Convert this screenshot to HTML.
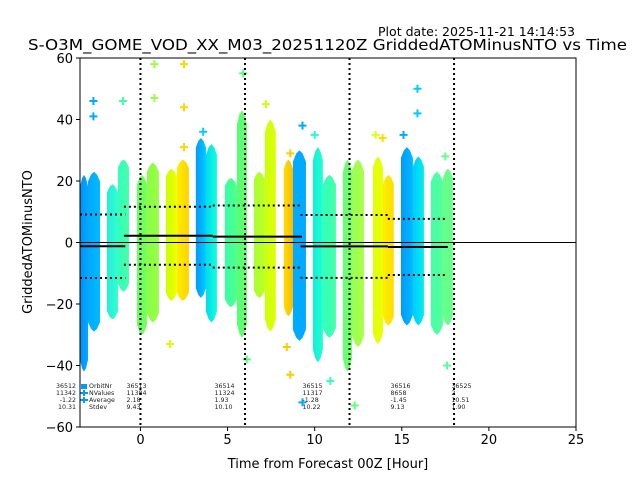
<!DOCTYPE html>
<html><head><meta charset="utf-8"><style>
html,body{margin:0;padding:0;background:#fff;}
svg{display:block;font-family:"DejaVu Sans","Liberation Sans",sans-serif;}
</style></head><body>
<svg id="chart" width="640" height="480" viewBox="0 0 640 480" xmlns="http://www.w3.org/2000/svg">
<text x="378" y="36" font-size="12" textLength="197" lengthAdjust="spacingAndGlyphs">Plot date: 2025-11-21 14:14:53</text>
<text x="28" y="50" font-size="15" textLength="599" lengthAdjust="spacingAndGlyphs">S-O3M_GOME_VOD_XX_M03_20251120Z GriddedATOMinusNTO vs Time</text>
<text transform="translate(32,242) rotate(-90)" font-size="13" text-anchor="middle">GriddedATOMinusNTO</text>
<text x="328" y="468" font-size="13" text-anchor="middle">Time from Forecast 00Z [Hour]</text>
<g id="plot"></g>
</svg>
<script>
// columns of scatter density (hours, values)
const colX0 = [-3.47,-3.01,-1.92,-1.29,-0.20,0.37,1.46,2.09,3.18,3.76,4.85,5.54,6.51,7.14,8.23,8.75,9.90,10.47,11.62,12.14,13.34,13.92,14.95,15.64,16.67,17.36];
const colX1 = [-3.01,-2.32,-1.29,-0.66,0.37,1.06,2.09,2.78,3.76,4.39,5.54,6.11,7.14,7.77,8.75,9.50,10.47,11.22,12.14,12.83,13.92,14.54,15.64,16.27,17.36,17.93];
const colTop = [22,23,19,27,22,26,24,27,34,32,21,43,23,40,27,30,31,22,27,27,28,22,31,28,23,24];
const colBot = [-42,-29,-25,-16,-30,-26,-19,-19,-18,-26,-21,-31,-18,-29,-24,-32,-39,-31,-42,-34,-33,-27,-27,-27,-30,-27];
const colC0 = ["#0090ff","#00a8ff","#22eedd","#33ffbb","#66ff66","#88ff44","#ccff00","#ffee00","#0099ff","#00ddee","#33ffaa","#55ff77","#aaff33","#ccff11","#ffdd00","#00aaff","#11eedd","#33ffbb","#66ff77","#99ff55","#ddff11","#ffee00","#0099ff","#00ccff","#44ffaa","#66ff88"];
const colC1 = ["#00a8ff","#00bbff","#33ffcc","#44ffaa","#77ff55","#99ff44","#eeff00","#ffd200","#00ccff","#11ffdd","#55ff88","#66ff66","#bbff22","#ddff00","#ffbb00","#00aaff","#22ffcc","#44ffaa","#77ff66","#aaff44","#eeff00","#ffdd00","#00bbff","#00eeee","#55ff99","#66ff88"];
// outlier markers
const outX = [-2.7,-2.7,-1.0,0.8,0.8,2.5,2.5,2.5,3.6,5.9,6.1,7.2,8.6,8.6,9.3,9.3,10.0,10.9,12.3,13.5,13.9,15.1,15.9,15.9,17.5,17.6,1.7,8.4];
const outY = [46,41,46,58,47,58,44,31,36,55,-38,45,29,-43,38,-52,35,-45,-53,35,34,35,50,42,28,-40,-33,-34];
const outC = ["#00aaff","#00aaff","#44ffaa","#99ff44","#99ff44","#ffd700","#ffd700","#ffd700","#00ccff","#55ff77","#55ff77","#ccff11","#ffcc00","#ffcc00","#00aaff","#00aaff","#22ffcc","#33ffbb","#66ff77","#ddff11","#ffdd00","#00aaff","#00ccff","#00ccff","#66ff88","#55ff99","#ddff00","#ffcc00"];
// orbit statistics
const orbitNr = ["36512","36513","36514","36515","36516","36525"];
const nValues = ["11342","11384","11324","11317","8658","2"];
const avg = [-1.22,2.18,1.93,-1.28,-1.45,10.51];
const stdev = [10.31,9.43,10.10,10.22,9.13,1.90];
const orbStart = [-3.47,-0.95,4.15,9.19,14.2,null];
const orbEnd = [-0.87,4.15,9.27,14.2,17.64,null];
const labelX = [-3.7,-0.8,4.25,9.3,14.35,17.85];
const xTicks = [0,5,10,15,20,25];
const yTicks = [-60,-40,-20,0,20,40,60];
const vLines = [0,6,12,18];

const L=80,R=576,T=58,B=427, XMIN=-3.47, XMAX=25, YMIN=-60, YMAX=60;
const sx=v=>L+(v-XMIN)/(XMAX-XMIN)*(R-L);
const sy=v=>B-(v-YMIN)/(YMAX-YMIN)*(B-T);
const NS="http://www.w3.org/2000/svg";
const svg=document.getElementById('chart'), g=document.getElementById('plot');
function mk(tag,at,parent){const e=document.createElementNS(NS,tag);for(const k in at)e.setAttribute(k,at[k]);(parent||g).appendChild(e);return e;}
const defs=mk('defs',{},svg);
const clip=mk('clipPath',{id:'cp'},defs);mk('rect',{x:L,y:T,width:R-L,height:B-T},clip);
const data=mk('g',{'clip-path':'url(#cp)'});


colX0.forEach((x0,i)=>{
  const gr=mk('linearGradient',{id:'gr'+i,x1:0,x2:1,y1:0,y2:0},defs);
  mk('stop',{offset:0,'stop-color':colC0[i]},gr);mk('stop',{offset:1,'stop-color':colC1[i]},gr);
  const a=sx(x0),b=sx(colX1[i]),t=sy(colTop[i]),bt=sy(colBot[i]),w=b-a,h=bt-t,m=h*0.06;
  const d=`M${a},${t+m}L${a+w*0.25},${t+m*0.3}L${a+w*0.5},${t}L${a+w*0.75},${t+m*0.3}L${b},${t+m}L${b},${bt-m}L${a+w*0.75},${bt-m*0.3}L${a+w*0.5},${bt}L${a+w*0.25},${bt-m*0.3}L${a},${bt-m}Z`;
  const r=mk('path',{d:d,fill:'url(#gr'+i+')'},data);
  
  
});
outX.forEach((x,i)=>{
  const px=sx(x),py=sy(outY[i]);
  const p=mk('path',{d:`M${px-4},${py}H${px+4}M${px},${py-4}V${py+4}`,stroke:outC[i],'stroke-width':2},data);
  
  
});
const z=mk('line',{x1:L,x2:R,y1:sy(0),y2:sy(0),stroke:'#000','stroke-width':1});


vLines.forEach(v=>{
  const l=mk('line',{x1:sx(v),x2:sx(v),y1:T,y2:B,stroke:'#000','stroke-width':2,'stroke-dasharray':'2,3'});
  
  
});
orbitNr.forEach((o,i)=>{
  if(orbStart[i]===null)return;
  const a=sx(orbStart[i]),b=sx(orbEnd[i]);
  const m=mk('line',{x1:a,x2:b,y1:sy(avg[i]),y2:sy(avg[i]),stroke:'#000','stroke-width':2});
  
  
  [1,-1].forEach(s=>{
    const d=mk('line',{x1:a,x2:b,y1:sy(avg[i]+s*stdev[i]),y2:sy(avg[i]+s*stdev[i]),stroke:'#000','stroke-width':2,'stroke-dasharray':'2,3'});
    
    
  });
});
const rows=[orbitNr,nValues,avg.map(v=>v.toFixed(2)),stdev.map(v=>v.toFixed(2))];
orbitNr.forEach((o,i)=>{
  rows.forEach((row,r)=>{
    const t=mk('text',{x:sx(labelX[i]),y:388+r*7,'font-size':6.3,'text-anchor':i===0?'end':'start',fill:'#222'});
    t.textContent=row[i];
    
    
  });
});
const legLabels=["OrbitNr","NValues","Average","Stdev"];
legLabels.forEach((s,r)=>{
  const y=386+r*7;
  if(r===0)mk('rect',{x:81,y:y-2,width:6,height:5,fill:'#0099ff'});
  else if(r<3)mk('path',{d:`M80,${y}H88M84,${y-3}V${y+3}`,stroke:'#0099ff','stroke-width':2});
  const t=mk('text',{x:89,y:y+2,'font-size':6.3,fill:'#222'});
  t.textContent=s;
  
  
});
const f=mk('rect',{x:L,y:T,width:R-L,height:B-T,fill:'none',stroke:'#000','stroke-width':1});


xTicks.forEach(v=>{
  mk('line',{x1:sx(v),x2:sx(v),y1:B,y2:B+4,stroke:'#000'});
  const t=mk('text',{x:sx(v),y:B+17,'font-size':13,'text-anchor':'middle'});t.textContent=v;
  
  
});
yTicks.forEach(v=>{
  mk('line',{x1:L-4,x2:L,y1:sy(v),y2:sy(v),stroke:'#000'});
  const t=mk('text',{x:L-7,y:sy(v)+5,'font-size':13,'text-anchor':'end'});t.textContent=(v<0?'\u2212':'')+Math.abs(v);
  
  
});
</script>
</body></html>
